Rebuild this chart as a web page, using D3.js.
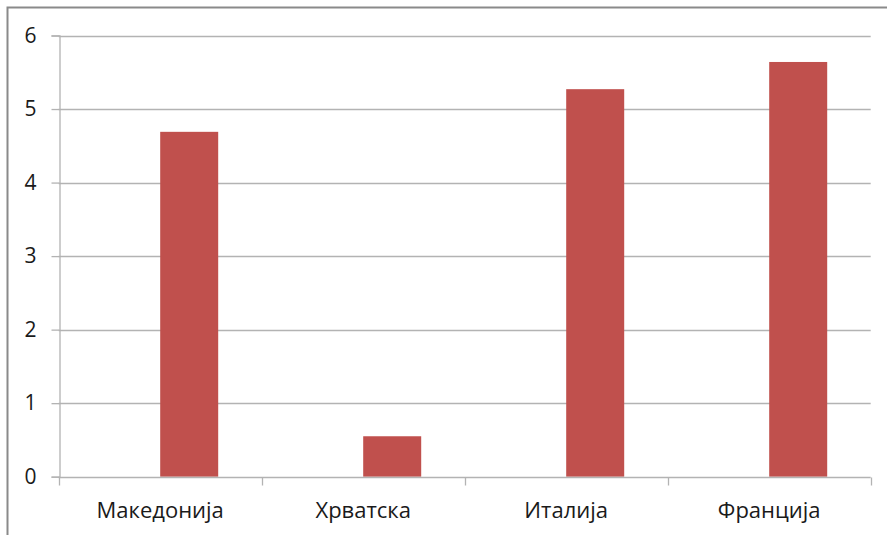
<!DOCTYPE html>
<html>
<head>
<meta charset="utf-8">
<script src="https://cdn.jsdelivr.net/npm/d3@7"></script>
<style>
  html, body { margin: 0; padding: 0; background: #fff; }
  svg { display: block; }
  text { font-family: "Open Sans", "DejaVu Sans", sans-serif; fill: #1a1a1a; }
</style>
</head>
<body>
<script>
// Categories and values of the bar chart
const categories = ["Македонија", "Хрватска", "Италија", "Франција"];
const series = ["A", "B"];            // first series is empty, second holds the values
const valuesA = [null, null, null, null];
const valuesB = [4.69, 0.55, 5.27, 5.64];
const yTicks = [0, 1, 2, 3, 4, 5, 6];

const W = 887, H = 535;
const margin = { left: 58.7, right: 16.3, top: 35.5, bottom: 58.3 };

const svg = d3.select("body").append("svg")
  .attr("width", W).attr("height", H);

// outer chart frame (only top and left edges fall inside the view)
svg.append("rect")
  .attr("x", 7.5).attr("y", 7.5)
  .attr("width", W + 20).attr("height", H + 20)
  .attr("fill", "none").attr("stroke", "#8a8a8a").attr("stroke-width", 2);

const x0 = d3.scaleBand()
  .domain(categories)
  .range([margin.left, W - margin.right])
  .paddingInner(0).paddingOuter(0);

// clustered bars: gap width 150% of one bar
const x1 = d3.scaleBand()
  .domain(series)
  .range([0, x0.bandwidth()])
  .paddingInner(0)
  .paddingOuter(0.75);

const y = d3.scaleLinear()
  .domain([0, 6])
  .range([H - margin.bottom, margin.top]);

const g = svg.append("g");

// horizontal gridlines
g.selectAll("line.grid")
  .data(yTicks.filter(d => d > 0))
  .join("line")
  .attr("class", "grid")
  .attr("x1", margin.left).attr("x2", W - margin.right)
  .attr("y1", d => Math.round(y(d)) + 0.5).attr("y2", d => Math.round(y(d)) + 0.5)
  .attr("stroke", "#b3b3b3").attr("stroke-width", 1.3);

// bars
const rows = categories.map((c, i) => ({ c, A: valuesA[i], B: valuesB[i] }));
g.selectAll("g.cat")
  .data(rows)
  .join("g")
  .attr("class", "cat")
  .attr("transform", d => `translate(${x0(d.c)},0)`)
  .selectAll("rect")
  .data(d => series.map(s => ({ s, v: d[s] })).filter(e => e.v != null))
  .join("rect")
  .attr("x", d => x1(d.s))
  .attr("width", x1.bandwidth())
  .attr("y", d => y(d.v))
  .attr("height", d => y(0) - y(d.v))
  .attr("fill", "#c0504d");

// y axis
const yAxis = d3.axisLeft(y).tickValues(yTicks).tickFormat(d3.format("d"))
  .tickSize(8).tickPadding(15);
const ya = svg.append("g")
  .attr("transform", `translate(${Math.round(margin.left) + 0.5},0)`)
  .call(yAxis)
  .attr("font-size", null).attr("font-family", null);
ya.select(".domain").attr("stroke", "#b3b3b3").attr("stroke-width", 1.3);
ya.selectAll(".tick line").attr("stroke", "#b3b3b3").attr("stroke-width", 1.3);
ya.selectAll(".tick text")
  .style("font-size", "21px").attr("fill", "#1a1a1a");

// x axis with ticks at category boundaries
const xa = svg.append("g")
  .attr("transform", `translate(0,${Math.round(y(0)) + 0.5})`);
xa.append("line")
  .attr("x1", margin.left).attr("x2", W - margin.right)
  .attr("stroke", "#b3b3b3").attr("stroke-width", 1.3);
const bounds = categories.map(c => x0(c)).concat([x0.range()[1]]);
xa.selectAll("line.tk")
  .data(bounds)
  .join("line")
  .attr("class", "tk")
  .attr("x1", d => Math.round(d) + 0.5).attr("x2", d => Math.round(d) + 0.5)
  .attr("y1", 0).attr("y2", 8)
  .attr("stroke", "#b3b3b3").attr("stroke-width", 1.3);
xa.selectAll("text")
  .data(categories)
  .join("text")
  .attr("x", d => x0(d) + x0.bandwidth() / 2)
  .attr("y", 40)
  .attr("text-anchor", "middle")
  .style("font-size", "22px")
  .text(d => d);
</script>
</body>
</html>
